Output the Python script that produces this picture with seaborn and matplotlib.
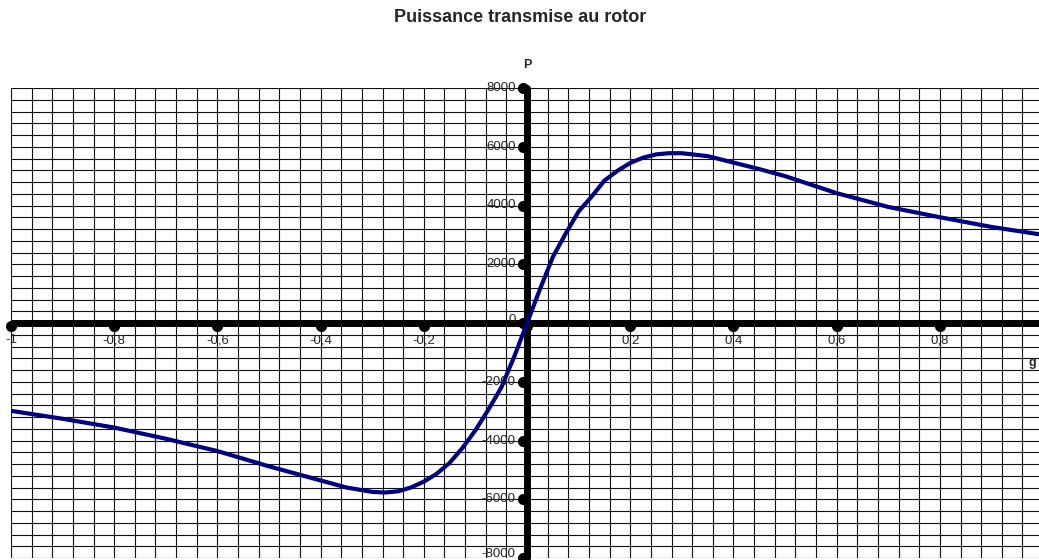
import numpy as np
import pandas as pd
import matplotlib
matplotlib.use('Agg')
import matplotlib.pyplot as plt
import seaborn as sns

# glissement g et puissance P
g_vals = [-1.0, -0.9, -0.8, -0.7, -0.6, -0.5, -0.45, -0.4, -0.35, -0.3, -0.275, -0.25,
          -0.225, -0.2, -0.175, -0.15, -0.125, -0.1, -0.075, -0.05, -0.025, 0.0,
          0.025, 0.05, 0.075, 0.1, 0.125, 0.15, 0.175, 0.2, 0.225, 0.25, 0.275, 0.3,
          0.35, 0.4, 0.45, 0.5, 0.6, 0.7, 0.8, 0.9, 1.0]
p_vals = [-2990, -3260, -3560, -3940, -4360, -4880, -5120, -5360, -5600, -5750, -5770, -5730,
          -5600, -5400, -5130, -4760, -4250, -3650, -2950, -2200, -1150, 0,
          1150, 2250, 3050, 3800, 4300, 4850, 5180, 5450, 5630, 5740, 5780, 5780,
          5680, 5460, 5240, 5000, 4420, 3950, 3600, 3270, 3000]

x_ticks = [-1, -0.8, -0.6, -0.4, -0.2, 0, 0.2, 0.4, 0.6, 0.8]
x_labels = ['-1', '-0,8', '-0,6', '-0,4', '-0,2', '', '0,2', '0,4', '0,6', '0,8']
y_ticks = [-8000, -6000, -4000, -2000, 0, 2000, 4000, 6000, 8000]
y_labels = ['-8000', '-6000', '-4000', '-2000', '0', '2000', '4000', '6000', '8000']

sns.set_style('white')
plt.rcParams['font.family'] = ['Liberation Sans', 'DejaVu Sans']

fig = plt.figure(figsize=(10.39, 5.6), dpi=100)
ax = fig.add_axes([11 / 1039, 2 / 560, 1028 / 1039, 470 / 560])
ax.set_xlim(-1, 0.992)
ax.set_ylim(-8000, 8000)
ax.axis('off')

# quadrillage
for xv in np.arange(-1, 1.0001, 0.04):
    ax.axvline(xv, color='#111111', lw=0.8, zorder=1)
for yv in np.arange(-8000, 8001, 400):
    ax.axhline(yv, color='#111111', lw=0.8, zorder=1)

# axes épais
ax.axhline(0, color='black', lw=5, zorder=3)
ax.axvline(0, color='black', lw=5, zorder=3, clip_on=False)
ax.plot(x_ticks, [-90] * len(x_ticks), 'o', color='black', ms=7, zorder=3, clip_on=False)
ax.plot([-0.008] * len(y_ticks), y_ticks, 'o', color='black', ms=7, zorder=3, clip_on=False)

df = pd.DataFrame({'g': g_vals, 'P': p_vals})
sns.lineplot(data=df, x='g', y='P', ax=ax, color='#000080', lw=3, zorder=4)

for xv, lab in zip(x_ticks, x_labels):
    ax.text(xv, -580, lab, ha='center', va='center', fontsize=9.5, zorder=5)
for yv, lab in zip(y_ticks, y_labels):
    ax.text(-0.022, yv + (100 if yv == 0 else 0) + (120 if yv == -8000 else 0), lab,
            ha='right', va='center', fontsize=9.5, zorder=5)

ax.text(0.0, 8800, 'P', ha='center', va='center', fontsize=9, fontweight='bold')
ax.text(0.98, -1350, 'g', ha='center', va='center', fontsize=9, fontweight='bold')

fig.text(520 / 1039, 1 - 18 / 560, 'Puissance transmise au rotor', ha='center', va='center',
         fontsize=13, fontweight='bold')

fig.savefig('out.png', dpi=100)
